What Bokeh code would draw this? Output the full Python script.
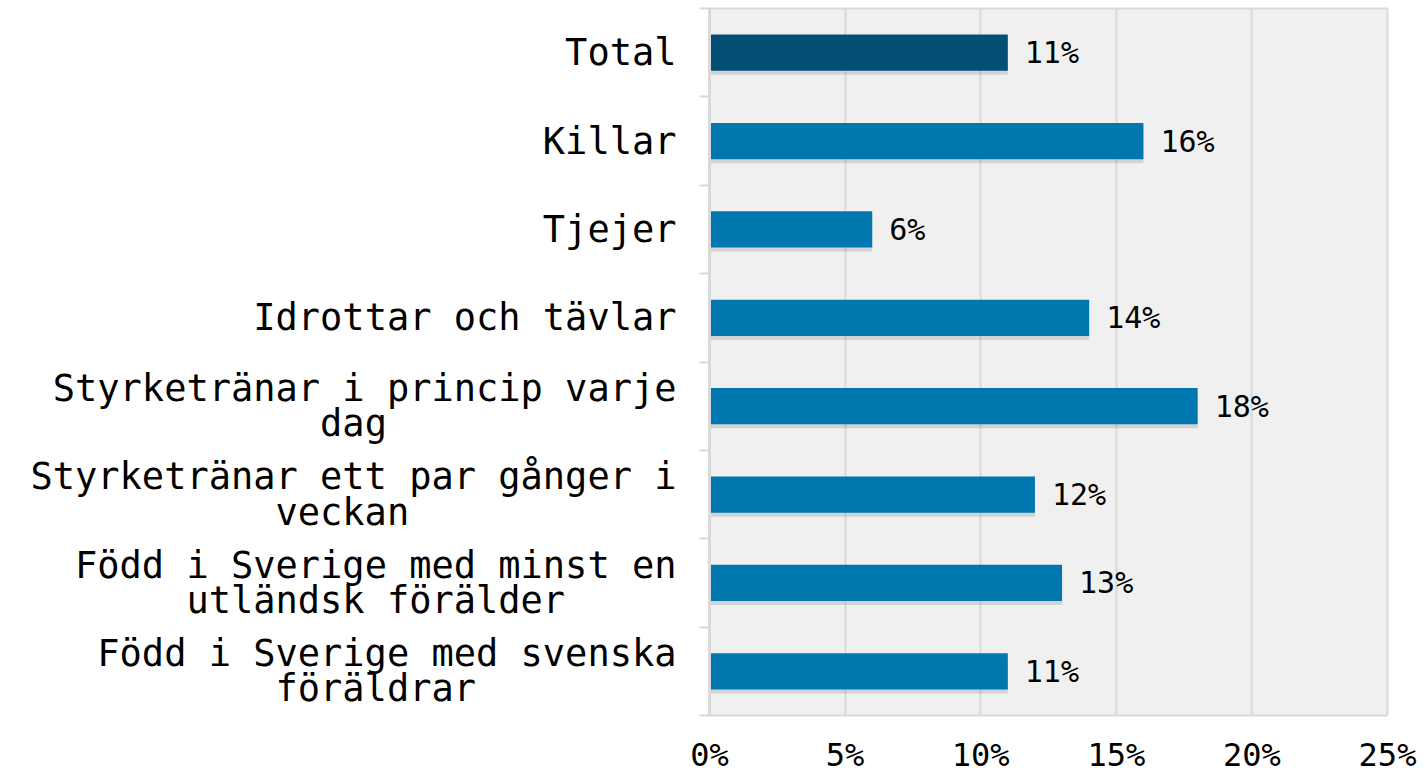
import numpy as np
from bokeh.plotting import figure
from bokeh.models import ColumnDataSource, FixedTicker, LabelSet
from bokeh.core.properties import value
from bokeh.embed import file_html
from bokeh.resources import INLINE

# ---- data ----
categories = [
    "Total",
    "Killar",
    "Tjejer",
    "Idrottar och tävlar",
    "Styrketränar i princip varje\ndag",
    "Styrketränar ett par gånger i\nveckan",
    "Född i Sverige med minst en\nutländsk förälder",
    "Född i Sverige med svenska\nföräldrar",
]
values = [11, 16, 6, 14, 18, 12, 13, 11]
x_ticks = [0, 5, 10, 15, 20, 25]

DARK = "#034f74"
BLUE = "#0077af"
colors = [DARK] + [BLUE] * (len(values) - 1)

NB = "\u00a0"


def center_lines(label):
    lines = label.split("\n")
    m = max(len(l) for l in lines)
    out = []
    for l in lines:
        pad = m - len(l)
        left = pad // 2
        out.append(NB * left + l + NB * (pad - left))
    return "\n".join(out)


n = len(categories)
ypos = [n - 0.5 - i for i in range(n)]

src = ColumnDataSource(dict(
    y=ypos,
    ys=[y - 0.045 for y in ypos],
    v=values,
    c=colors,
    lab=[f"{v}%" for v in values],
))

p = figure(
    width=1425, height=776,
    x_range=(0, 25), y_range=(0, n),
    output_backend="svg", toolbar_location=None,
    min_border_left=709, min_border_right=38,
    min_border_top=8, min_border_bottom=58,
)
p.background_fill_color = "#f0f0f0"
p.outline_line_color = "#d9d9d9"
p.outline_line_width = 2

# shadow
p.hbar(y="ys", right="v", left=0, height=0.41, source=src,
       fill_color="#7a7a7a", fill_alpha=0.25, line_color=None)
p.hbar(y="y", right="v", left=0, height=0.41, source=src,
       fill_color="c", line_color=None)

labels = LabelSet(x="v", y="y", text="lab", source=src, x_offset=17,
                  text_align="left", text_baseline="middle",
                  text_font=value("DejaVu Sans Mono"), text_font_size="30px",
                  text_color="black")
p.add_layout(labels)

# y axis
yt = FixedTicker(ticks=ypos, minor_ticks=list(range(n + 1)))
p.yaxis.ticker = yt
p.yaxis.major_label_overrides = {y: center_lines(c) for y, c in zip(ypos, categories)}
p.yaxis.major_label_text_font = "DejaVu Sans Mono"
p.yaxis.major_label_text_font_size = "37px"
p.yaxis.major_label_text_line_height = 0.82
p.yaxis.major_label_text_color = "black"
p.yaxis.major_label_standoff = 23
p.yaxis.major_tick_line_color = None
p.yaxis.minor_tick_line_color = "#d9d9d9"
p.yaxis.minor_tick_line_width = 2
p.yaxis.minor_tick_out = 10
p.yaxis.minor_tick_in = 0
p.yaxis.axis_line_color = "#d9d9d9"
p.yaxis.axis_line_width = 3

# x axis
p.xaxis.ticker = FixedTicker(ticks=x_ticks)
p.xaxis.major_label_overrides = {t: f"{t}%" for t in x_ticks}
p.xaxis.major_label_text_font = "DejaVu Sans Mono"
p.xaxis.major_label_text_font_size = "32px"
p.xaxis.major_label_text_line_height = 0.8
p.xaxis.major_label_text_color = "black"
p.xaxis.major_label_standoff = 14
p.xaxis.major_tick_line_color = None
p.xaxis.minor_tick_line_color = None
p.xaxis.axis_line_color = None

p.xgrid.ticker = FixedTicker(ticks=x_ticks)
p.xgrid.grid_line_color = "#d9d9d9"
p.xgrid.grid_line_width = 2
p.ygrid.grid_line_color = None

open("out.html", "w").write(file_html(p, INLINE))
